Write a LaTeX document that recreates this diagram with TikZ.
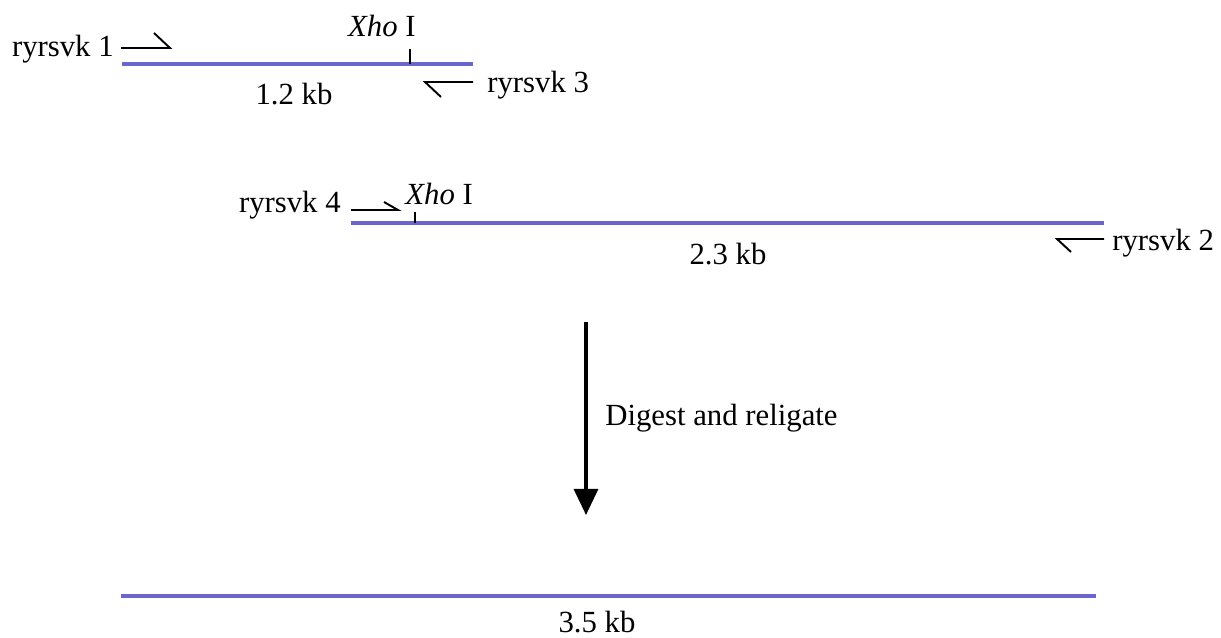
\documentclass[tikz,border=0pt]{standalone}
\usepackage{fontspec}
\setmainfont{Liberation Serif}
\usepackage{xcolor}
\usetikzlibrary{positioning, calc, arrows.meta}

\definecolor{dnablue}{RGB}{106,102,206}
\tikzset{
  dna/.style={line width=2.7pt, dnablue},
  primer/.style={line width=1.1pt, black},
  site/.style={line width=0.8pt, black},
  lbl/.style={font=\fontsize{17.5}{21}\selectfont, inner sep=0pt}
}

\begin{document}
\begin{tikzpicture}[x=0.02cm, y=-0.02cm]
  \useasboundingbox (0,0) rectangle (1221,638);

  % First fragment (1.2 kb)
  \coordinate (A1) at (122,64);
  \coordinate (A2) at (473,64);
  \coordinate (XA) at (410,64);
  \draw[dna] (A1) -- (A2);
  \draw[site] (XA) -- ++(0,-15);

  % Second fragment (2.3 kb)
  \coordinate (B1) at (351,223);
  \coordinate (B2) at (1104,223);
  \coordinate (XB) at (415,223);
  \draw[dna] (B1) -- (B2);
  \draw[site] (XB) -- ++(0,-11);

  % Religated product (3.5 kb)
  \coordinate (C1) at (121,596);
  \coordinate (C2) at (1096,596);
  \draw[dna] (C1) -- (C2);

  % Primers
  \coordinate (P1) at (121,48);
  \coordinate (P3) at (473,82);
  \coordinate (P4) at (351,210);
  \coordinate (P2) at (1104,239);
  \draw[primer] (P1) -- ++(49,0) -- ++(-16,-15);
  \draw[primer] (P3) -- ++(-48,0) -- ++(16,15);
  \draw[primer] (P4) -- ++(47,0) -- ++(-14,-8);
  \draw[primer] (P2) -- ++(-47,0) -- ++(14,13);

  % Labels
  \node[lbl, anchor=base east] (r1) at (114,57) {ryrsvk 1};
  \node[lbl, anchor=base west] (r3) at (487,93) {ryrsvk 3};
  \node[lbl, anchor=base east] (r4) at (341,213) {ryrsvk 4};
  \node[lbl, anchor=base west] (r2) at (1112,251) {ryrsvk 2};
  \node[lbl, anchor=base east] (xa) at (416,37) {\textit{Xho} I};
  \node[lbl, anchor=base west] (xb) at (405,205) {\textit{Xho} I};

  % Sizes
  \node[lbl, anchor=base] (s1) at (294,105) {1.2 kb};
  \node[lbl, anchor=base] (s2) at (728,265) {2.3 kb};
  \node[lbl, anchor=base] (s3) at (597,632) {3.5 kb};

  % Digest step
  \coordinate (D1) at (586,322);
  \coordinate (D2) at (586,515);
  \draw[line width=1.8pt, -{Triangle[width=24*0.02cm, length=26*0.02cm]}] (D1) -- (D2);
  \node[lbl, anchor=base west] (dg) at (605,426) {Digest and religate};
\end{tikzpicture}
\end{document}
